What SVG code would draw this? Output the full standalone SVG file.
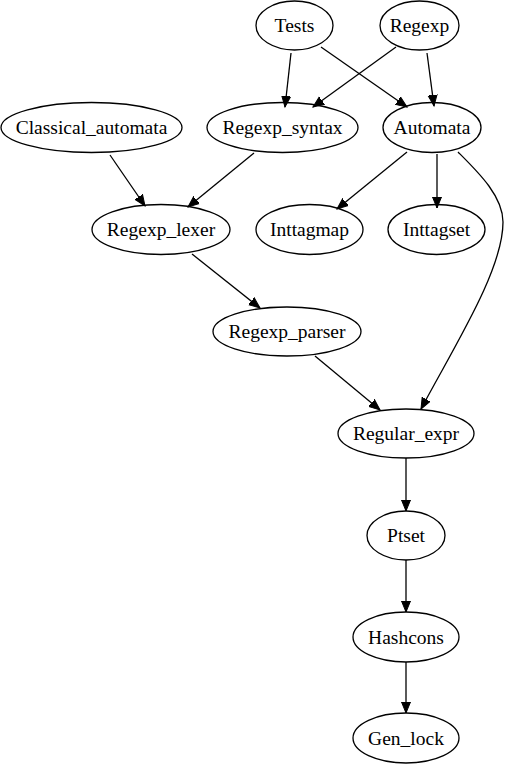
<svg xmlns="http://www.w3.org/2000/svg" width="509" height="767" viewBox="0 0 509 767">
<style>
.e{fill:none;stroke:#000;stroke-width:1.3}
.t{font-family:"Liberation Serif","Times New Roman",serif;font-size:19.5px;text-anchor:middle;fill:#000}
.c{fill:none;stroke:#000;stroke-width:1.3;marker-end:url(#ah)}
</style>
<defs>
<marker id="ah" markerUnits="userSpaceOnUse" markerWidth="13" markerHeight="12" viewBox="0 -6 13 12" refX="11" refY="0" orient="auto">
<path d="M0,-4.5 L11,0 L0,4.5 z" fill="#000" stroke="#000" stroke-width="1"/>
</marker>
</defs>
<rect width="509" height="767" fill="#fff"/>
<g id="edges">
<path class="c" d="M291,53 L285,107"/>
<path class="c" d="M321,47 L407,107"/>
<path class="c" d="M396,47 L313,107"/>
<path class="c" d="M427,53 L434,106"/>
<path class="c" d="M110,155 L145,206"/>
<path class="c" d="M254,153 L188,207"/>
<path class="c" d="M407,152 L337,209"/>
<path class="c" d="M437,154 L437,208"/>
<path class="c" d="M458,152 C478,172 503,196 503,222 C503,270 455,345 421,409"/>
<path class="c" d="M192,254 L260,308"/>
<path class="c" d="M315,356 L380,410"/>
<path class="c" d="M406,458 L406,511"/>
<path class="c" d="M406,560 L406,612"/>
<path class="c" d="M406,662 L406,713"/>
</g>
<g id="Tests"><ellipse class="e" cx="294.5" cy="25.5" rx="38.5" ry="24.5"/><text class="t" x="294.5" y="32">Tests</text></g>
<g id="Regexp"><ellipse class="e" cx="419.5" cy="25.5" rx="39.5" ry="24.5"/><text class="t" x="419.5" y="32">Regexp</text></g>
<g id="Classical_automata"><ellipse class="e" cx="91.5" cy="127.5" rx="90.5" ry="25"/><text class="t" x="91.5" y="134">Classical_automata</text></g>
<g id="Regexp_syntax"><ellipse class="e" cx="282.5" cy="127.5" rx="75.5" ry="25"/><text class="t" x="282.5" y="134">Regexp_syntax</text></g>
<g id="Automata"><ellipse class="e" cx="432" cy="127.5" rx="49" ry="25"/><text class="t" x="432" y="134">Automata</text></g>
<g id="Regexp_lexer"><ellipse class="e" cx="161" cy="229.5" rx="69" ry="25"/><text class="t" x="161" y="236">Regexp_lexer</text></g>
<g id="Inttagmap"><ellipse class="e" cx="309.5" cy="229.5" rx="53.5" ry="25"/><text class="t" x="309.5" y="236">Inttagmap</text></g>
<g id="Inttagset"><ellipse class="e" cx="436.5" cy="229.5" rx="48.5" ry="25"/><text class="t" x="436.5" y="236">Inttagset</text></g>
<g id="Regexp_parser"><ellipse class="e" cx="287" cy="331.5" rx="74" ry="24.5"/><text class="t" x="287" y="338">Regexp_parser</text></g>
<g id="Regular_expr"><ellipse class="e" cx="406" cy="433.5" rx="68" ry="24.5"/><text class="t" x="406" y="440">Regular_expr</text></g>
<g id="Ptset"><ellipse class="e" cx="406" cy="535.5" rx="39" ry="24.5"/><text class="t" x="406" y="542">Ptset</text></g>
<g id="Hashcons"><ellipse class="e" cx="406" cy="637" rx="53" ry="25"/><text class="t" x="406" y="643.5">Hashcons</text></g>
<g id="Gen_lock"><ellipse class="e" cx="406" cy="738" rx="53" ry="25"/><text class="t" x="406" y="744.5">Gen_lock</text></g>
</svg>
